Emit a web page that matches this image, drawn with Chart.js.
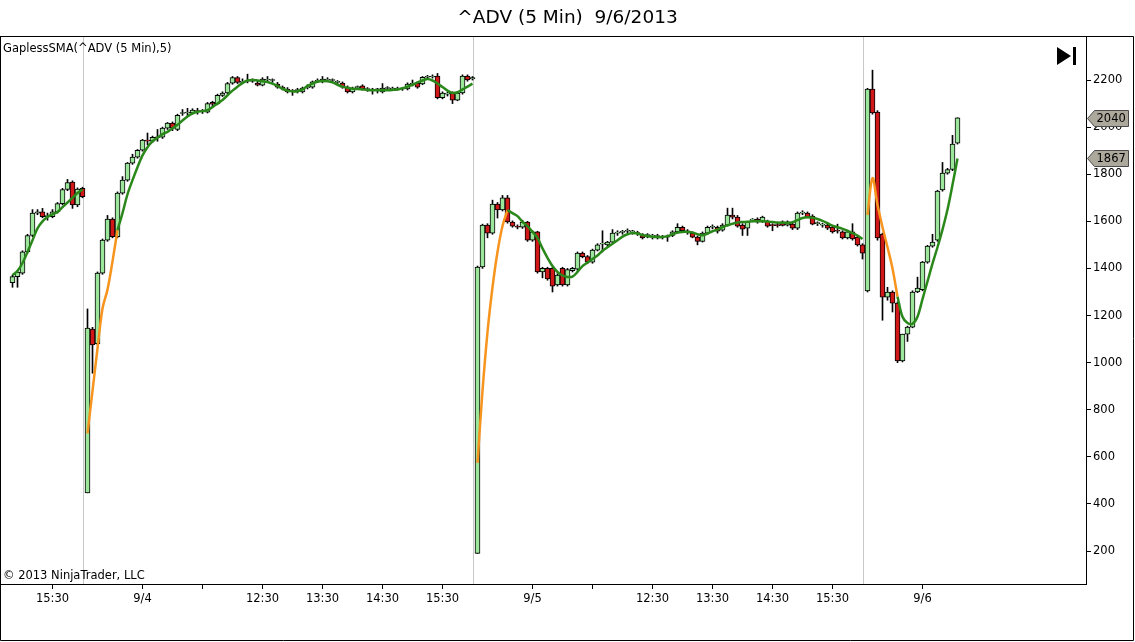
<!DOCTYPE html>
<html>
<head>
<meta charset="utf-8">
<script src="https://cdn.jsdelivr.net/npm/chart.js@4.4.0/dist/chart.umd.min.js"></script>
<style>
  body { margin: 0; background: #fff; }
</style>
</head>
<body>
<canvas id="chart" width="1135" height="642"></canvas>
<script>
// 5 minute bars, one index per bar (4 sessions: 9/3 tail, 9/4, 9/5, 9/6 morning)
const open = [
  1340,1365,1380,1470,1540,1635,1640,1620,1620,1640,1675,1735,1767,1670,1740,
  447,1142,1080,1380,1520,1610,1535,1720,1775,1847,
  1873,1902,1945,1940,1957,1957,1996,2017,1990,2058,
  2060,2060,2068,2066,2064,2105,2100,2135,2145,2187,
  2210,2190,2195,2195,2187,2178,2200,2198,2183,2170,
  2162,2152,2155,2150,2168,2170,2195,2192,2200,2198,
  2190,2187,2170,2150,2168,2175,2160,2157,2158,2150,
  2164,2162,2162,2162,2162,2180,2187,2183,2212,2213,
  2217,2125,2140,2145,2115,2145,2217,2205,
  190,1406,1584,1550,1673,1648,1700,1597,1578,1575,
  1597,1520,1555,1385,1400,1400,1330,1400,1330,1390,
  1397,1465,1450,1427,1478,1503,1500,1512,1550,1553,
  1558,1555,1550,1540,1540,1537,1535,1533,1535,1540,
  1555,1575,1555,1550,1533,1515,1550,1575,1575,1563,
  1584,1627,1618,1584,1571,1605,1610,1600,1600,1583,
  1583,1598,1584,1588,1571,1635,1635,1622,1590,1584,
  1584,1576,1560,1555,1530,1555,1533,1500,
  1304,2162,2064,1546,1278,1300,1253,1007,1121,1151,1300,1310,1427,1495,1520,1733,1805,1820,1932
];
const high = [
  1372,1390,1475,1545,1650,1650,1655,1635,1650,1680,1740,1778,1772,1742,1745,
  1228,1150,1385,1525,1625,1615,1725,1790,1850,1885,
  1905,1948,1975,1962,1990,2000,2020,2022,2055,2075,
  2080,2078,2080,2075,2105,2110,2140,2150,2190,2215,
  2215,2205,2225,2205,2195,2210,2215,2205,2190,2175,
  2168,2160,2165,2170,2180,2196,2205,2215,2210,2205,
  2198,2192,2175,2170,2175,2180,2168,2165,2165,2185,
  2172,2170,2170,2168,2188,2200,2192,2215,2220,2222,
  2228,2150,2148,2150,2150,2222,2222,2215,
  1410,1588,1590,1690,1680,1710,1710,1602,1585,1605,
  1600,1560,1558,1405,1405,1405,1378,1405,1400,1405,
  1470,1470,1455,1482,1505,1560,1515,1565,1560,1562,
  1568,1562,1558,1548,1548,1545,1545,1540,1542,1560,
  1590,1580,1565,1555,1538,1555,1580,1585,1580,1590,
  1656,1656,1625,1590,1600,1612,1615,1622,1605,1590,
  1592,1602,1602,1592,1640,1645,1640,1628,1598,1592,
  1590,1580,1588,1560,1560,1590,1538,1505,
  2165,2242,2070,1550,1320,1305,1258,1121,1155,1305,1363,1430,1498,1545,1732,1850,1825,1965,2040
];
const low = [
  1320,1320,1375,1465,1535,1628,1615,1605,1615,1635,1670,1730,1655,1662,1700,
  447,955,1075,1375,1515,1530,1530,1715,1770,1842,
  1868,1898,1925,1935,1940,1952,1990,1985,1985,2050,
  2045,2055,2055,2058,2060,2090,2095,2130,2140,2182,
  2185,2185,2188,2190,2175,2175,2195,2190,2165,2158,
  2145,2135,2145,2145,2162,2165,2190,2188,2195,2192,
  2185,2165,2145,2145,2160,2158,2152,2140,2145,2145,
  2158,2155,2157,2156,2158,2175,2165,2180,2205,2208,
  2120,2120,2132,2100,2112,2140,2195,2200,
  190,1400,1530,1545,1614,1644,1592,1575,1568,1570,
  1515,1515,1380,1360,1350,1300,1325,1325,1325,1385,
  1392,1445,1420,1422,1474,1470,1495,1508,1540,1545,
  1550,1545,1540,1525,1530,1525,1525,1525,1515,1535,
  1550,1555,1545,1530,1500,1512,1545,1568,1550,1558,
  1580,1610,1575,1540,1540,1598,1592,1595,1575,1560,
  1575,1580,1580,1565,1565,1628,1615,1585,1582,1575,
  1565,1550,1550,1525,1525,1520,1495,1440,
  1300,2055,1520,1180,1265,1215,1000,1003,1090,1148,1297,1305,1422,1490,1515,1728,1800,1815,1928
];
const close = [
  1365,1385,1470,1540,1635,1640,1620,1622,1640,1675,1735,1765,1670,1737,1705,
  1147,1075,1380,1520,1610,1535,1720,1775,1847,1873,
  1902,1945,1940,1957,1955,1996,2017,1996,2050,2060,
  2062,2072,2066,2068,2100,2098,2135,2145,2185,2210,
  2190,2195,2197,2196,2178,2204,2200,2198,2170,2162,
  2150,2152,2155,2166,2170,2192,2195,2204,2200,2198,
  2190,2170,2150,2166,2168,2162,2160,2157,2158,2166,
  2164,2162,2162,2162,2183,2187,2170,2212,2212,2213,
  2125,2145,2140,2115,2145,2217,2200,2210,
  1406,1584,1550,1673,1648,1700,1597,1580,1575,1597,
  1520,1555,1385,1400,1355,1325,1372,1330,1395,1400,
  1465,1450,1427,1478,1500,1505,1512,1550,1550,1555,
  1560,1555,1548,1530,1540,1537,1535,1533,1533,1555,
  1575,1560,1555,1533,1515,1550,1575,1575,1558,1584,
  1627,1618,1580,1567,1597,1605,1597,1618,1580,1582,
  1582,1583,1598,1571,1635,1635,1618,1588,1590,1584,
  1571,1555,1558,1530,1555,1525,1500,1465,
  2162,2060,1530,1278,1300,1253,1007,1121,1151,1300,1317,1427,1495,1512,1728,1805,1820,1928,2040
];
// GaplessSMA(5)
const sma = [
  1372,1390,1423,1470,1520,1570,1600,1618,1630,1640,1660,1680,1700,1720,1735,
  700,880,1060,1230,1310,1430,1563,1635,1715,1775,
  1830,1880,1915,1940,1955,1970,1980,1995,2010,2028,
  2045,2058,2065,2068,2072,2085,2100,2115,2135,2155,
  2172,2187,2198,2200,2198,2195,2192,2185,2175,2163,
  2155,2152,2152,2160,2175,2185,2193,2196,2195,2190,
  2180,2172,2167,2163,2162,2160,2158,2157,2157,2157,
  2157,2158,2160,2165,2172,2180,2190,2198,2204,2198,
  2185,2170,2155,2145,2148,2160,2172,2185,
  574,880,1130,1320,1470,1580,1648,1635,1622,1598,
  1580,1555,1530,1485,1445,1410,1385,1370,1364,1365,
  1385,1410,1425,1440,1455,1475,1490,1505,1520,1535,
  1545,1550,1548,1542,1538,1535,1533,1533,1537,1545,
  1552,1555,1555,1553,1545,1541,1548,1558,1565,1575,
  1583,1590,1595,1597,1598,1600,1600,1600,1599,1597,
  1595,1594,1593,1596,1605,1614,1617,1615,1610,1602,
  1592,1582,1575,1568,1560,1550,1540,1525,
  1627,1784,1670,1575,1490,1400,1280,1195,1168,1165,1195,1270,1345,1420,1490,1565,1650,1755,1867
];
// bars where the SMA is drawn orange (session start, not enough bars yet)
const warmupRanges = [[15, 21], [93, 99], [171, 177]];
const sessionLastBar = [14, 92, 170];

const tickBars = [8, 26, 38, 50, 62, 74, 86, 104, 116, 128, 140, 152, 164, 182];
const tickLabels = ['15:30', '9/4', '', '12:30', '13:30', '14:30', '15:30', '9/5', '', '12:30', '13:30', '14:30', '15:30', '9/6'];
const yTicks = [200, 400, 600, 800, 1000, 1200, 1400, 1600, 1800, 2000, 2200];

const UP = '#9be69b';
const DOWN = '#d01818';
const FONT = '"DejaVu Sans", Verdana, sans-serif';

const inWarmup = (i) => warmupRanges.some(r => i >= r[0] && i <= r[1]);

const wickData = open.map((o, i) => ({ x: i, y: [low[i], high[i]] }));
const bodyData = open.map((o, i) => ({ x: i, y: [o, close[i]] }));
const bodyColors = open.map((o, i) => close[i] >= o ? UP : DOWN);
const smaGreen = sma.map((v, i) => {
  // keep last warmup bar so the two colours join
  const isEnd = warmupRanges.some(r => i === r[1]);
  return { x: i, y: (inWarmup(i) && !isEnd) ? null : v };
});
const smaOrange = sma.map((v, i) => ({ x: i, y: inWarmup(i) ? v : null }));

const chromePlugin = {
  id: 'chrome',
  beforeDatasetsDraw(chart) {
    const ctx = chart.ctx, a = chart.chartArea, xs = chart.scales.x;
    ctx.save();
    ctx.strokeStyle = '#c8c8c8';
    ctx.lineWidth = 1;
    sessionLastBar.forEach(b => {
      const x = Math.round(xs.getPixelForValue(b)) + 0.5;
      ctx.beginPath();
      ctx.moveTo(x, a.top);
      ctx.lineTo(x, a.bottom);
      ctx.stroke();
    });
    ctx.restore();
  },
  afterDraw(chart) {
    const ctx = chart.ctx, a = chart.chartArea, ys = chart.scales.y;
    const W = chart.width;
    ctx.save();
    // frames
    ctx.strokeStyle = '#000';
    ctx.lineWidth = 1;
    ctx.strokeRect(a.left + 0.5, a.top + 0.5, a.right - a.left, a.bottom - a.top);
    ctx.beginPath();
    ctx.moveTo(0, a.top + 0.5); ctx.lineTo(W - 1.5, a.top + 0.5);
    ctx.lineTo(W - 1.5, chart.height - 1.5); ctx.lineTo(0.5, chart.height - 1.5);
    ctx.lineTo(0.5, a.top);
    ctx.stroke();

    // title
    ctx.fillStyle = '#000';
    ctx.textBaseline = 'middle';
    ctx.textAlign = 'center';
    ctx.font = '18.5px ' + FONT;
    ctx.fillText('^ADV (5 Min)  9/6/2013', W / 2, 18);

    ctx.textAlign = 'left';
    ctx.font = '11.5px ' + FONT;
    ctx.fillText('GaplessSMA(^ADV (5 Min),5)', 3, 49);
    ctx.fillText('\u00A9 2013 NinjaTrader, LLC', 3, 576);

    // go-to-end icon
    ctx.beginPath();
    ctx.moveTo(1057, 47); ctx.lineTo(1071, 56); ctx.lineTo(1057, 65); ctx.closePath();
    ctx.fill();
    ctx.fillRect(1073, 47, 3, 18);

    // last value markers on the price axis
    const markers = [close[close.length - 1], sma[sma.length - 1]];
    markers.forEach(v => {
      const y = Math.round(ys.getPixelForValue(v)) + 0.5;
      const x0 = a.right + 1.5, x1 = x0 + 7, x2 = 1128.5;
      ctx.beginPath();
      ctx.moveTo(x0, y);
      ctx.lineTo(x1, y - 8); ctx.lineTo(x2, y - 8);
      ctx.lineTo(x2, y + 8); ctx.lineTo(x1, y + 8);
      ctx.closePath();
      ctx.fillStyle = '#aca89c';
      ctx.fill();
      ctx.strokeStyle = '#4a4a4a';
      ctx.stroke();
      ctx.fillStyle = '#000';
      ctx.font = '11.5px ' + FONT;
      ctx.textBaseline = 'middle';
      ctx.fillText(String(v), x1 + 2, y + 0.5);
    });
    ctx.restore();
  }
};

Chart.defaults.font.family = FONT;
Chart.defaults.font.size = 11.5;
Chart.defaults.color = '#000';

new Chart(document.getElementById('chart'), {
  type: 'bar',
  data: {
    datasets: [
      {
        type: 'line', data: smaGreen, borderColor: '#2a881a', borderWidth: 2.5,
        pointRadius: 0, tension: 0.35, spanGaps: false, order: 0
      },
      {
        type: 'line', data: smaOrange, borderColor: '#f7941d', borderWidth: 2.5,
        pointRadius: 0, tension: 0.35, spanGaps: false, order: 0
      },
      {
        data: bodyData, backgroundColor: bodyColors, borderColor: '#000', borderWidth: 1,
        borderSkipped: false, barThickness: 5, minBarLength: 1, grouped: false, order: 1
      },
      {
        data: wickData, backgroundColor: '#000', borderWidth: 0,
        barThickness: 1, grouped: false, order: 2
      }
    ]
  },
  options: {
    responsive: false,
    animation: false,
    events: [],
    layout: { padding: { top: 36, left: 0, right: 0, bottom: 0 } },
    plugins: {
      legend: { display: false },
      tooltip: { enabled: false },
      title: { display: false }
    },
    scales: {
      x: {
        type: 'linear',
        min: -2.5,
        max: 214.7,
        offset: false,
        grid: { display: true, offset: false, drawOnChartArea: false, tickLength: 5, color: '#000' },
        border: { display: false },
        ticks: {
          autoSkip: false, maxRotation: 0, padding: 3, color: '#000',
          callback: (v) => {
            const k = tickBars.indexOf(v);
            return k >= 0 ? tickLabels[k] : '';
          }
        },
        afterBuildTicks: (s) => { s.ticks = tickBars.map(v => ({ value: v })); },
        afterFit: (s) => { s.height = 58; }
      },
      y: {
        type: 'linear',
        position: 'right',
        min: 60,
        max: 2387,
        grid: { display: true, drawOnChartArea: false, tickLength: 5, color: '#000' },
        border: { display: false },
        ticks: { padding: 2, color: '#000', callback: (v) => String(v) },
        afterBuildTicks: (s) => { s.ticks = yTicks.map(v => ({ value: v })); },
        afterFit: (s) => { s.width = 49; }
      }
    }
  },
  plugins: [chromePlugin]
});
</script>
</body>
</html>
